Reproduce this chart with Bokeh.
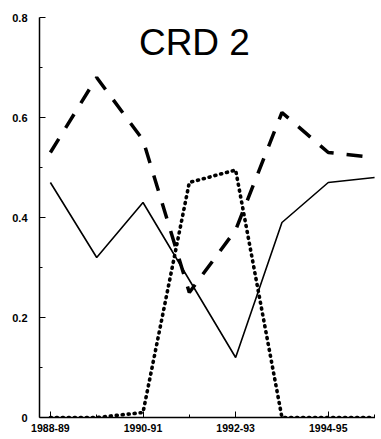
from bokeh.plotting import figure
from bokeh.models import FixedTicker, Label
from bokeh.embed import file_html
from bokeh.resources import INLINE

seasons = ["1988-89", "1989-90", "1990-91", "1991-92", "1992-93", "1993-94", "1994-95", "1995-96"]
solid_vals = [0.47, 0.32, 0.43, 0.275, 0.12, 0.39, 0.47, 0.48]
dashed_vals = [0.53, 0.68, 0.555, 0.25, 0.375, 0.61, 0.53, 0.52]
dotted_vals = [0.0, 0.0, 0.01, 0.47, 0.495, 0.0, 0.0, 0.0]
y_ticks = [0, 0.2, 0.4, 0.6, 0.8]
y_tick_labels = ["0", "0.2", "0.4", "0.6", "0.8"]
x_tick_idx = [0, 2, 4, 6]
title_text = "CRD 2"

xs = list(range(len(seasons)))

p = figure(width=375, height=435, output_backend="svg", toolbar_location=None,
           x_range=(-0.235, 7.02), y_range=(0, 0.8),
           min_border_left=39, min_border_right=0, min_border_top=17, min_border_bottom=18)
p.outline_line_color = None
p.xgrid.visible = False
p.ygrid.visible = False
p.background_fill_color = "white"

p.line(xs, solid_vals, line_color="black", line_width=1.6)
p.line(xs, dashed_vals, line_color="black", line_width=3.5, line_dash="16 13")
p.line(xs, dotted_vals, line_color="black", line_width=3.6, line_dash="1 5", line_cap="round")

# axes
p.yaxis.ticker = FixedTicker(ticks=y_ticks, minor_ticks=[0.1, 0.3, 0.5, 0.7])
p.yaxis.major_label_overrides = {t: l for t, l in zip(y_ticks, y_tick_labels)}
p.xaxis.ticker = FixedTicker(ticks=x_tick_idx, minor_ticks=[1, 3, 5, 7])
p.xaxis.major_label_overrides = {i: seasons[i] for i in x_tick_idx}

for ax in (p.xaxis[0], p.yaxis[0]):
    ax.axis_line_color = "black"
    ax.axis_line_width = 1.5
    ax.major_tick_in = 6
    ax.major_tick_out = 0
    ax.minor_tick_in = 3
    ax.minor_tick_out = 0
    ax.major_tick_line_color = "black"
    ax.minor_tick_line_color = "black"
    ax.major_label_text_font = "Liberation Sans"
    ax.major_label_text_font_style = "bold"
    ax.major_label_text_color = "black"

p.yaxis.major_label_text_font_size = "11px"
p.yaxis.major_label_standoff = 12
p.xaxis.major_label_text_font_size = "10.5px"
p.xaxis.major_label_standoff = 6

p.add_layout(Label(x=3.11, y=0.75, text=title_text, text_align="center",
                   text_baseline="alphabetic", text_font="Liberation Sans",
                   text_font_size="37px", text_color="black"))

open("out.html", "w").write(file_html(p, INLINE))
